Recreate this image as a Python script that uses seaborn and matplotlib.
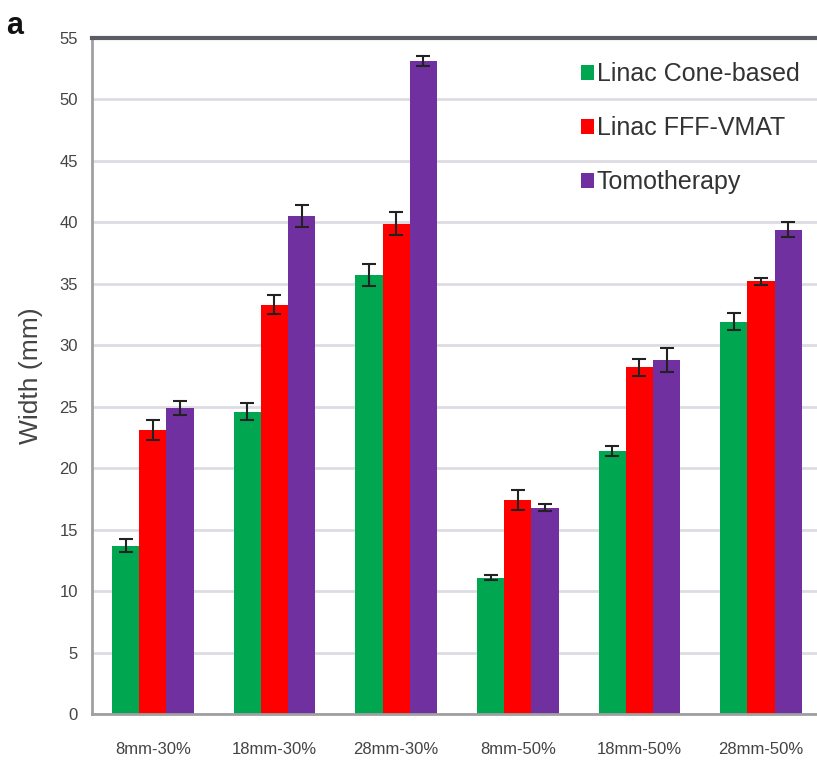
import matplotlib
matplotlib.use("Agg")
import matplotlib.pyplot as plt
import pandas as pd
import seaborn as sns

categories = ["8mm-30%", "18mm-30%", "28mm-30%", "8mm-50%", "18mm-50%", "28mm-50%"]
series = ["Linac Cone-based", "Linac FFF-VMAT", "Tomotherapy"]
cone = [13.7, 24.6, 35.7, 11.1, 21.4, 31.9]
fff = [23.1, 33.3, 39.9, 17.4, 28.2, 35.2]
tomo = [24.9, 40.5, 53.1, 16.8, 28.8, 39.4]
cone_err = [0.5, 0.7, 0.9, 0.2, 0.4, 0.7]
fff_err = [0.8, 0.8, 0.9, 0.8, 0.7, 0.3]
tomo_err = [0.6, 0.9, 0.4, 0.3, 1.0, 0.6]
colors = ["#00a650", "#ff0000", "#7030a0"]

rows = []
for s, vals, errs in zip(series, [cone, fff, tomo], [cone_err, fff_err, tomo_err]):
    for c, v, e in zip(categories, vals, errs):
        rows.append({"group": c, "series": s, "width": v, "err": e})
df = pd.DataFrame(rows)

sns.set_style("white")
plt.rcParams['font.family'] = ['Liberation Sans', 'DejaVu Sans']

fig = plt.figure(figsize=(8.17, 7.64), dpi=100)
ax = fig.add_axes([0.1126, 0.0654, 0.8874, 0.8850])

sns.barplot(data=df, x="group", y="width", hue="series", order=categories,
            hue_order=series, palette=colors, width=0.67, saturation=1,
            errorbar=None, linewidth=0, ax=ax)

# error bars at the bar centres seaborn placed
for cont, s in zip(ax.containers, series):
    sub = df[df["series"] == s].set_index("group").loc[categories]
    xs = [p.get_x() + p.get_width() / 2 for p in cont.patches]
    ax.errorbar(xs, sub["width"], yerr=sub["err"], fmt="none", ecolor="#222222",
                elinewidth=1.5, capsize=5, capthick=1.5, zorder=5)

ax.set_ylim(0, 55)
ax.set_xlim(-0.5, 5.46)
ax.set_yticks(range(0, 56, 5))
ax.yaxis.grid(True, color="#dcdce2", linewidth=2)
ax.set_axisbelow(True)
ax.tick_params(axis="both", labelsize=12, labelcolor="#444444", length=0)
ax.tick_params(axis="y", pad=10)
ax.tick_params(axis="x", pad=20)
ax.set_xlabel("")
ax.set_ylabel("Width (mm)", fontsize=19, color="#444444", labelpad=12)

for side in ["left", "bottom"]:
    ax.spines[side].set_color("#a0a0a0")
    ax.spines[side].set_linewidth(2)
ax.spines["right"].set_visible(False)
ax.spines["top"].set_color("#5a5e64")
ax.spines["top"].set_linewidth(3)

leg = ax.legend(loc="upper right", bbox_to_anchor=(1.0, 0.99), frameon=False,
                fontsize=18, handlelength=0.55, handleheight=0.55,
                handletextpad=0.1, labelspacing=1.2, borderaxespad=0.3)
for t in leg.get_texts():
    t.set_color("#333333")

fig.text(0.008, 0.955, "a", fontsize=22, fontweight="bold", color="#111111")

fig.savefig("out.png", dpi=100)
